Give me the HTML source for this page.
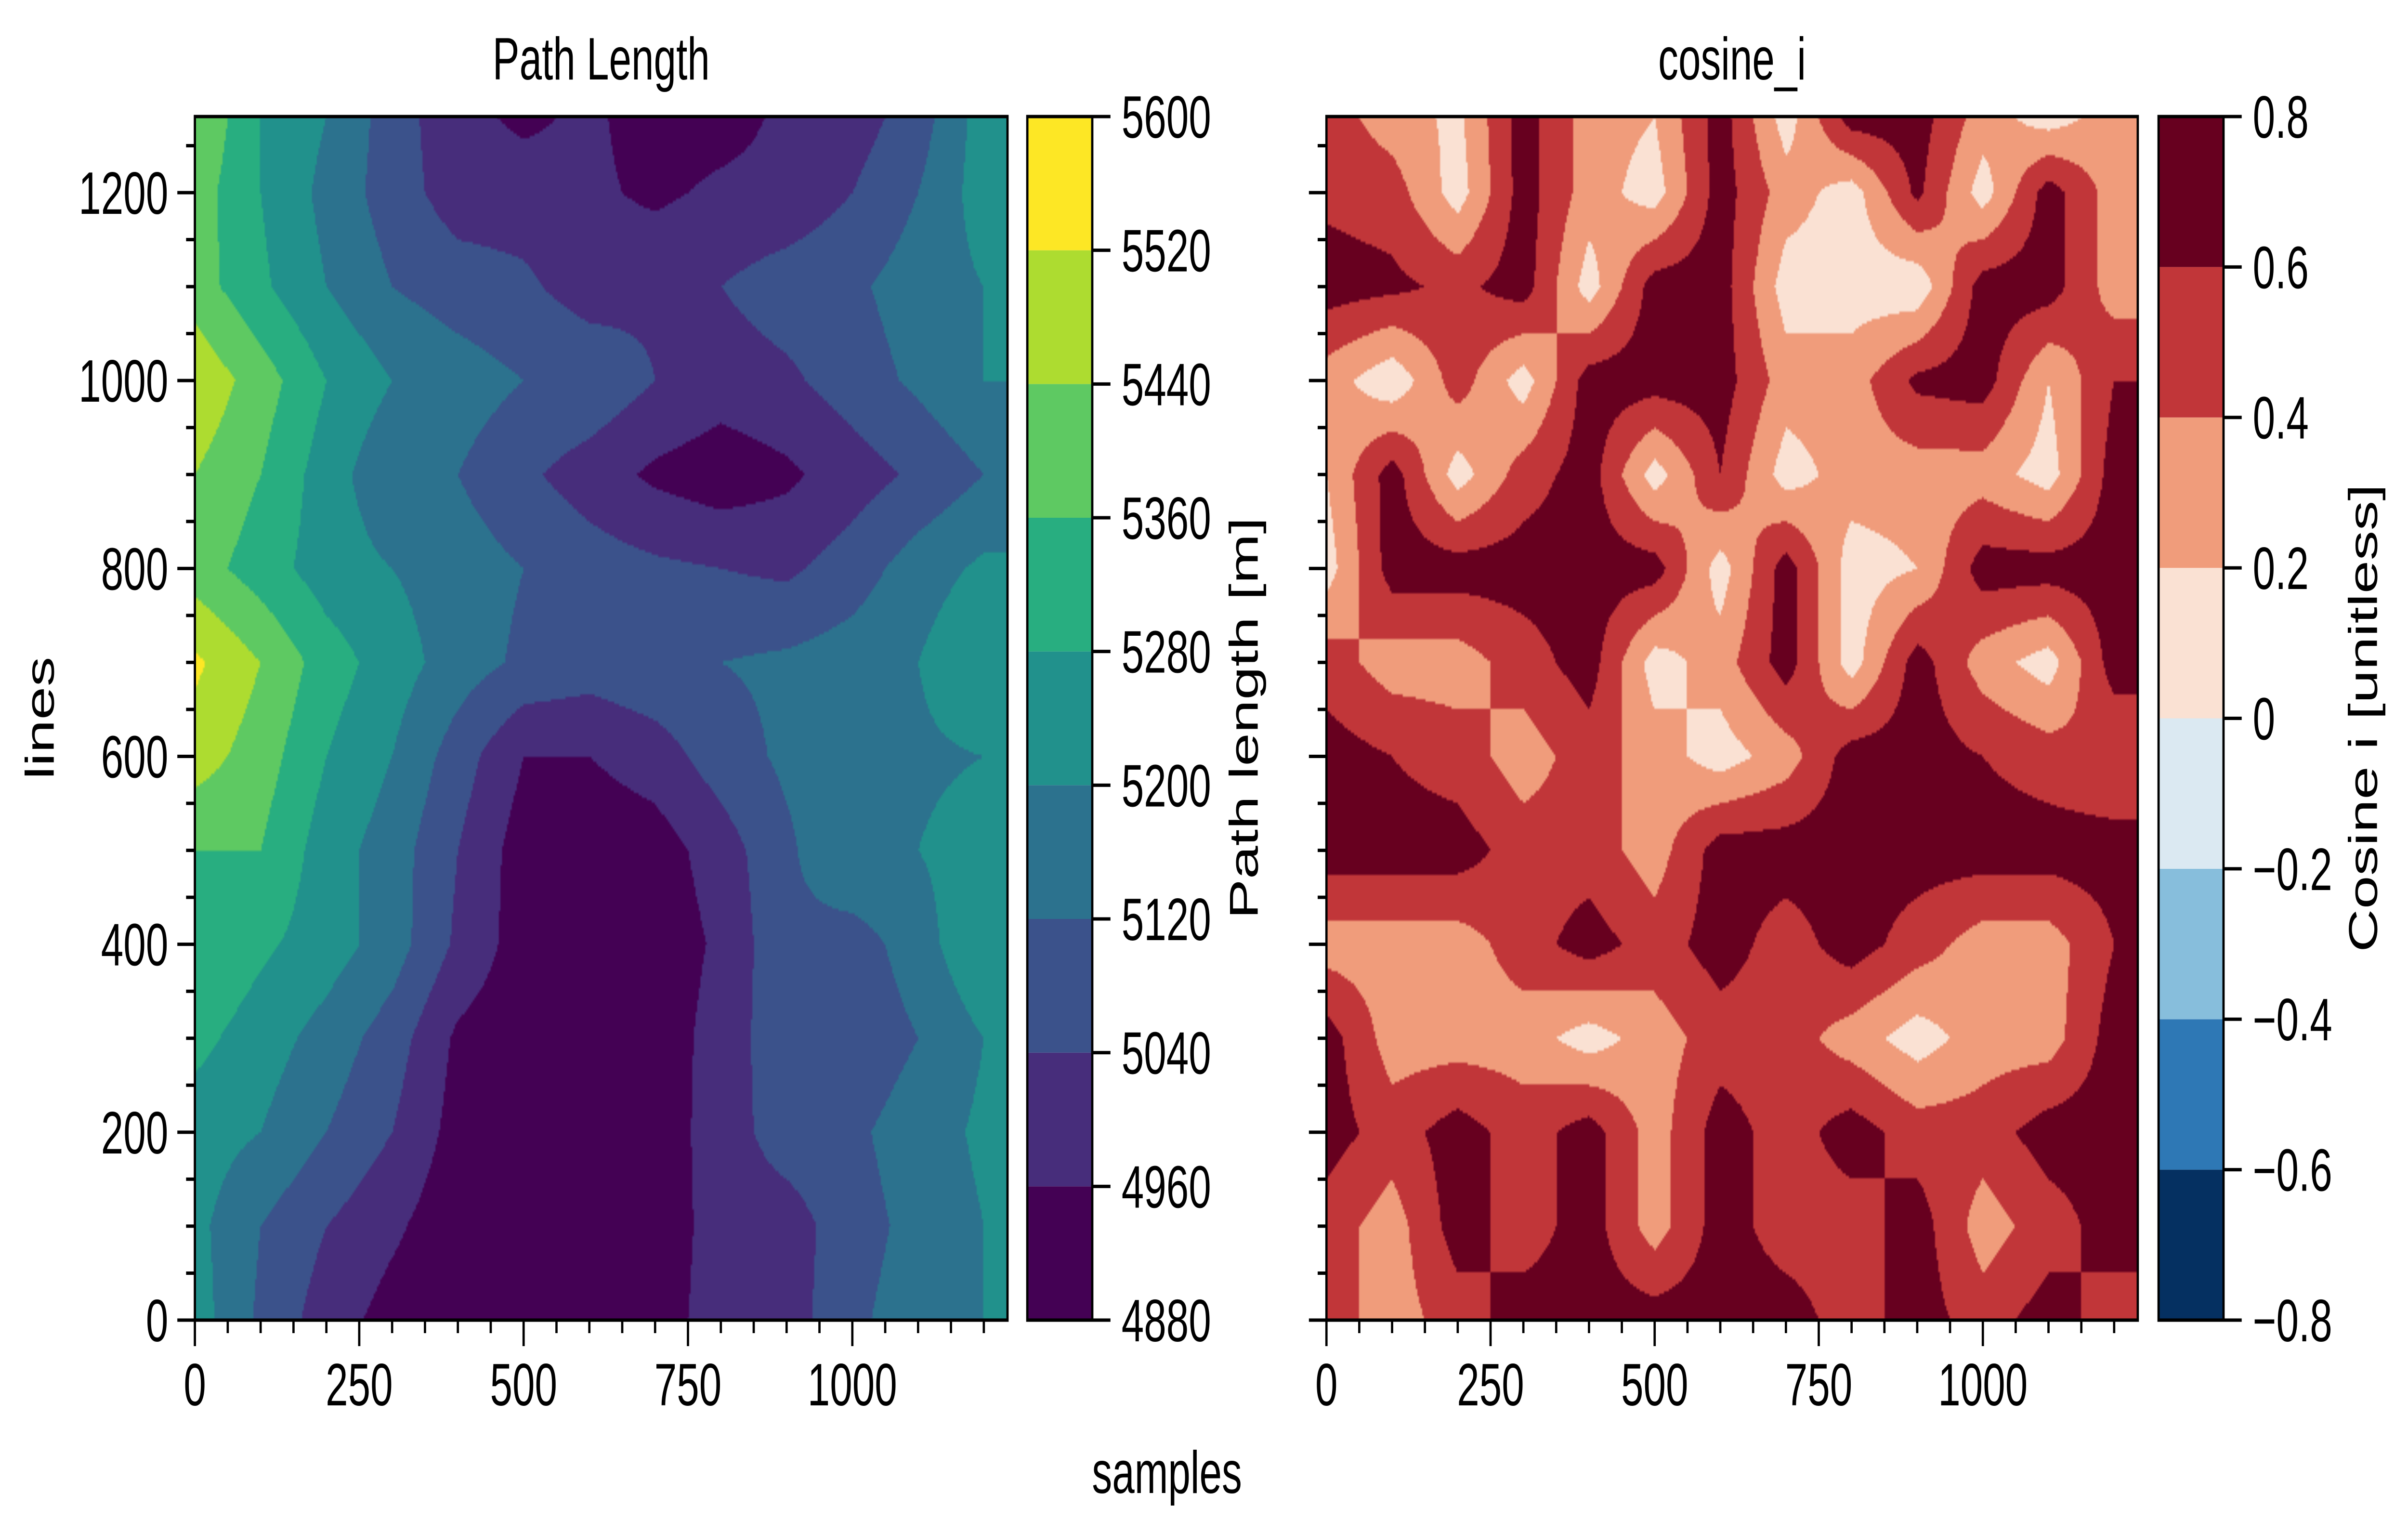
<!DOCTYPE html>
<html><head><meta charset="utf-8">
<meta name="viewport" content="width=7414, initial-scale=1">
<style>
html,body{margin:0;padding:0;background:#fff;overflow:hidden;}
#wrap{position:absolute;left:0;top:0;width:7414px;height:3183px;overflow:hidden;transform-origin:0 0;background:#fff;}
canvas{position:absolute;}
svg{position:absolute;left:0;top:0;}
text{font-family:"Liberation Sans",Arial,sans-serif;fill:#000;}
</style></head>
<body>
<div id="wrap">
<canvas id="c1" width="500" height="500"></canvas>
<canvas id="c2" width="500" height="500"></canvas>
<svg id="svg" width="7414" height="3183" xmlns="http://www.w3.org/2000/svg"></svg>
</div>
<script>
// ---- data ----
const xNodes = [0,100,200,300,400,500,600,700,800,900,1000,1100,1200];
const yNodes = [1280,1200,1100,1000,900,800,700,600,500,400,300,200,100,0];
const pathLength = [
[5440,5280,5200,5080,4984,4944,4976,4920,4928,4976,5000,5080,5240],
[5400,5280,5176,5080,5000,5000,4976,4944,4976,4984,5040,5120,5240],
[5400,5296,5200,5120,5080,5056,5000,5024,5040,5080,5104,5160,5200],
[5504,5400,5280,5200,5160,5120,5104,5040,5000,5024,5080,5136,5200],
[5440,5360,5240,5136,5120,5056,5000,4944,4912,4944,5000,5056,5120],
[5400,5320,5240,5200,5160,5120,5080,5056,5040,5024,5080,5160,5216],
[5536,5440,5320,5240,5160,5104,5080,5104,5120,5136,5160,5200,5280],
[5480,5400,5280,5200,5080,4960,4960,5000,5080,5136,5160,5184,5200],
[5360,5360,5240,5160,5040,4920,4904,4920,5000,5104,5200,5200,5240],
[5360,5296,5240,5160,5024,4920,4896,4904,4976,5104,5080,5160,5280],
[5304,5240,5168,5080,4944,4904,4896,4904,5000,5088,5064,5120,5200],
[5240,5200,5120,5040,4928,4904,4896,4912,5000,5080,5104,5160,5216],
[5224,5120,5040,4976,4904,4896,4896,4904,5000,5000,5088,5144,5200],
[5240,5104,5000,4928,4904,4896,4896,4920,5000,5000,5104,5160,5200]
];
const cosineI = [
[0.5,0.3,0.15,0.7,0.3,0.2,0.7,0.1,0.7,0.7,0.3,0.1,0.3],
[0.55,0.5,0.1,0.7,0.3,0.1,0.7,0.3,0.1,0.65,0.1,0.7,0.3],
[0.7,0.65,0.55,0.7,0.1,0.7,0.7,0.1,0.1,0.05,0.7,0.7,0.3],
[0.3,0.05,0.5,0.1,0.7,0.7,0.7,0.3,0.3,0.65,0.7,0.2,0.6],
[0.2,0.7,0.1,0.5,0.7,0.1,0.6,0.1,0.3,0.3,0.3,0.1,0.7],
[0.1,0.7,0.7,0.7,0.7,0.7,0.1,0.7,0.1,0.2,0.7,0.7,0.7],
[0.5,0.3,0.3,0.5,0.7,0.1,0.3,0.7,0.1,0.7,0.3,0.1,0.7],
[0.7,0.6,0.5,0.3,0.5,0.3,0.1,0.3,0.7,0.7,0.6,0.5,0.4],
[0.7,0.7,0.7,0.5,0.5,0.3,0.7,0.7,0.7,0.7,0.7,0.7,0.7],
[0.3,0.3,0.3,0.5,0.7,0.5,0.7,0.5,0.7,0.5,0.3,0.3,0.6],
[0.7,0.3,0.3,0.3,0.1,0.3,0.5,0.5,0.3,0.1,0.3,0.3,0.7],
[0.7,0.5,0.7,0.5,0.7,0.3,0.7,0.5,0.7,0.5,0.5,0.7,0.7],
[0.5,0.3,0.7,0.5,0.7,0.3,0.7,0.5,0.5,0.7,0.3,0.5,0.7],
[0.5,0.3,0.5,0.7,0.7,0.7,0.7,0.7,0.5,0.7,0.5,0.7,0.5]
];
const plLevels = [4880,4960,5040,5120,5200,5280,5360,5440,5520,5600];
const plTickLabels = ["4880","4960","5040","5120","5200","5280","5360","5440","5520","5600"];
const cosLevels = [-0.8,-0.6,-0.4,-0.2,0,0.2,0.4,0.6,0.8];
const cosTickLabels = ["\u22120.8","\u22120.6","\u22120.4","\u22120.2","0","0.2","0.4","0.6","0.8"];
const xTicks = [0,250,500,750,1000];
const yTicks = [0,200,400,600,800,1000,1200];

const plColors = ["#440154","#472d7b","#3b528b","#2c728e","#21918c","#28ae80","#5ec962","#addc30","#fde725"];
const cosColors = ["#053061","#2e78b5","#87bedc","#dbe9f2","#fae1d3","#f09c7b","#c13639","#67001f"];

(function(){
  const w=document.getElementById('wrap');
  function fit(){
    const vw=window.innerWidth||7414, vh=window.innerHeight||3183;
    w.style.transform='scale('+(vw/7414)+','+(vh/3183)+')';
  }
  fit(); window.addEventListener('resize',fit);
})();

const XMAX=1236, YMAX=1281;
const Y0=242, Y1=2741;
const AX1={x0:600,x1:3102}, AX2={x0:4084,x1:6582};
const CB1={x0:3163,x1:3363}, CB2={x0:6646,x1:6846};

function sx(ax,v){return ax.x0+(v/XMAX)*(ax.x1-ax.x0);}
function sy(v){return Y1-(v/YMAX)*(Y1-Y0);}

function interp(grid,s,l){
  s=Math.min(Math.max(s,xNodes[0]),xNodes[xNodes.length-1]);
  let i=0; while(i<xNodes.length-2 && s>xNodes[i+1]) i++;
  const tx=(s-xNodes[i])/(xNodes[i+1]-xNodes[i]);
  l=Math.min(Math.max(l,0),1280);
  let j=0; while(j<yNodes.length-2 && l<yNodes[j+1]) j++;
  const ty=(yNodes[j]-l)/(yNodes[j]-yNodes[j+1]);
  const a=grid[j][i],b=grid[j][i+1],c=grid[j+1][i],d=grid[j+1][i+1];
  return (a*(1-tx)+b*tx)*(1-ty)+(c*(1-tx)+d*tx)*ty;
}
function hex(h){return [parseInt(h.substr(1,2),16),parseInt(h.substr(3,2),16),parseInt(h.substr(5,2),16)];}
function drawField(id,ax,grid,levels,colors){
  const cv=document.getElementById(id);
  cv.style.left=ax.x0+'px'; cv.style.top=Y0+'px';
  cv.style.width=(ax.x1-ax.x0)+'px'; cv.style.height=(Y1-Y0)+'px';
  const ctx=cv.getContext('2d');
  const W=cv.width,H=cv.height;
  const img=ctx.createImageData(W,H);
  const rgb=colors.map(hex);
  for(let py=0;py<H;py++){
    const l=YMAX*(1-(py+0.5)/H);
    for(let px=0;px<W;px++){
      const s=XMAX*(px+0.5)/W;
      const v=interp(grid,s,l);
      let k=0; while(k<colors.length-1 && v>=levels[k+1]) k++;
      const c=rgb[k], o=(py*W+px)*4;
      img.data[o]=c[0];img.data[o+1]=c[1];img.data[o+2]=c[2];img.data[o+3]=255;
    }
  }
  ctx.putImageData(img,0,0);
}
drawField('c1',AX1,pathLength,plLevels,plColors);
drawField('c2',AX2,cosineI,cosLevels,cosColors);

const NS="http://www.w3.org/2000/svg";
const svg=document.getElementById('svg');
function el(tag,attrs,parent){const e=document.createElementNS(NS,tag);for(const k in attrs)e.setAttribute(k,attrs[k]);(parent||svg).appendChild(e);return e;}
function txt(str,attrs){const t=el('text',attrs);t.textContent=str;return t;}

function drawAxes(ax,name,showYLabels){
  const g=el('g',{});
  
  
  for(let v=0;v<=XMAX;v+=50){
    const major=v%250===0;
    const ln=el('line',{x1:sx(ax,v),x2:sx(ax,v),y1:Y1,y2:Y1+(major?54:27),stroke:'#000','stroke-width':7},g);
    
    
  }
  xTicks.forEach(v=>{
    const t=txt(String(v),{x:sx(ax,v),y:2918,'font-size':124,'text-anchor':'middle'});
    
    
  });
  for(let v=0;v<=YMAX;v+=50){
    const major=v%200===0;
    const ln=el('line',{x1:ax.x0,x2:ax.x0-(major?54:27),y1:sy(v),y2:sy(v),stroke:'#000','stroke-width':7},g);
    
    
  }
  if(showYLabels){
    yTicks.forEach(v=>{
      const t=txt(String(v),{x:ax.x0-82,y:sy(v)+44,'font-size':124,'text-anchor':'end'});
      
      
    });
  }
  const fr=el('rect',{x:ax.x0,y:Y0,width:ax.x1-ax.x0,height:Y1-Y0,fill:'none',stroke:'#000','stroke-width':7},g);
  
  
}
drawAxes(AX1,'path-length',true);
drawAxes(AX2,'cosine-i',false);

function drawCbar(cb,levels,colors,labels,name){
  const n=colors.length, lo=levels[0], hi=levels[levels.length-1];
  const cy=v=>Y1-(v-lo)/(hi-lo)*(Y1-Y0);
  for(let k=0;k<n;k++){
    const r=el('rect',{x:cb.x0,y:cy(levels[k+1]),width:cb.x1-cb.x0,height:cy(levels[k])-cy(levels[k+1]),fill:colors[k]});
    
    
  }
  levels.forEach((v,i)=>{
    const ln=el('line',{x1:cb.x1,x2:cb.x1+56,y1:cy(v),y2:cy(v),stroke:'#000','stroke-width':7});
    
    
    const t=txt(labels[i],{x:cb.x1+90,y:cy(v)+44,'font-size':124});
    
    
  });
  const fr=el('rect',{x:cb.x0,y:Y0,width:cb.x1-cb.x0,height:Y1-Y0,fill:'none',stroke:'#000','stroke-width':7});
  
  
}
drawCbar(CB1,plLevels,plColors,plTickLabels,'path-length-colorbar');
drawCbar(CB2,cosLevels,cosColors,cosTickLabels,'cosine-colorbar');

function label(str,attrs,name){const t=txt(str,attrs);}
label('Path Length',{x:1851,y:165,'font-size':124,'text-anchor':'middle'},'left-title');
label('cosine_i',{x:5333,y:165,'font-size':124,'text-anchor':'middle'},'right-title');
label('samples',{x:3593,y:3100,'font-size':124,'text-anchor':'middle'},'x-axis-title');
label('lines',{x:0,y:0,'font-size':124,'text-anchor':'middle',transform:'translate(165,1491) rotate(-90)'},'y-axis-title');
label('Path length [m]',{x:0,y:0,'font-size':124,'text-anchor':'middle',transform:'translate(3872,1491) rotate(-90)'},'path-length-colorbar-title');
label('Cosine i [unitless]',{x:0,y:0,'font-size':124,'text-anchor':'middle',transform:'translate(7318,1491) rotate(-90)'},'cosine-colorbar-title');
</script>
</body></html>
